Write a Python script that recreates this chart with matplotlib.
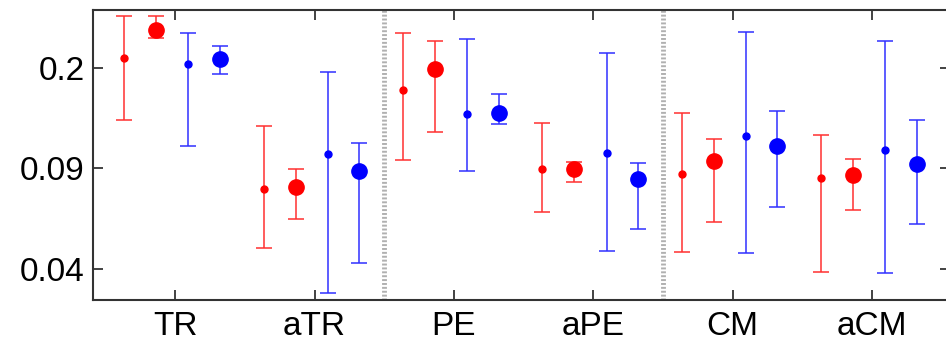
#!/usr/bin/env python3
import matplotlib
matplotlib.use('Agg')
import matplotlib.pyplot as plt
import numpy as np

groups = ['TR', 'aTR', 'PE', 'aPE', 'CM', 'aCM']

red_small_val = [0.217, 0.0762, 0.168, 0.0892, 0.0855, 0.0830]
red_small_lo = [0.132, 0.0474, 0.0961, 0.0631, 0.0461, 0.0391]
red_small_hi = [0.304, 0.126, 0.264, 0.129, 0.140, 0.1175]

red_big_val = [0.272, 0.0770, 0.198, 0.0894, 0.0951, 0.0848]
red_big_lo = [0.2545, 0.0600, 0.120, 0.0805, 0.0586, 0.0645]
red_big_hi = [0.304, 0.0889, 0.249, 0.0946, 0.113, 0.0968]

blue_small_val = [0.206, 0.1006, 0.138, 0.1016, 0.116, 0.1038]
blue_small_lo = [0.107, 0.0330, 0.0880, 0.0464, 0.0454, 0.0387]
blue_small_hi = [0.264, 0.193, 0.252, 0.225, 0.2665, 0.248]

blue_big_val = [0.215, 0.0880, 0.140, 0.0824, 0.107, 0.0931]
blue_big_lo = [0.191, 0.0420, 0.128, 0.0554, 0.0656, 0.0576]
blue_big_hi = [0.239, 0.110, 0.162, 0.0938, 0.142, 0.132]

ytick_vals = [0.04, 0.09, 0.2]
ytick_labels = ['0.04', '0.09', '0.2']

plt.rcParams['font.family'] = ['Liberation Sans', 'DejaVu Sans']

fig = plt.figure(figsize=(9.46, 3.46), dpi=100)
ax = fig.add_axes([93 / 946, 46 / 346, (950 - 93) / 946, 290 / 346])

x = np.arange(len(groups))
series = [
    (red_small_val, red_small_lo, red_small_hi, '#ff0000', '#ff3030', 5, -0.365),
    (red_big_val, red_big_lo, red_big_hi, '#ff0000', '#ff3030', 11, -0.135),
    (blue_small_val, blue_small_lo, blue_small_hi, '#0000ff', '#3030ff', 5, 0.095),
    (blue_big_val, blue_big_lo, blue_big_hi, '#0000ff', '#3030ff', 11, 0.32),
]
for val, lo, hi, col, ecol, ms, off in series:
    val = np.array(val)
    err = [val - np.array(lo), np.array(hi) - val]
    ax.errorbar(x + off, val, yerr=err, fmt='o', color=col, ecolor=ecol,
                markersize=ms, markeredgecolor=col, elinewidth=1.1,
                capsize=5.5, capthick=1.1, zorder=3)

for sep in [1.5, 3.5]:
    ax.axvline(sep, color='#b0b0b0', linewidth=3.5, linestyle=(0, (0.4, 0.4)), zorder=1)

ax.set_yscale('log')
ax.set_ylim(0.0313, 0.318)
ax.set_xlim(-0.59, 5.56)
ax.set_yticks(ytick_vals)
ax.set_yticklabels(ytick_labels)
ax.yaxis.set_minor_locator(matplotlib.ticker.NullLocator())
ax.set_xticks(x)
ax.set_xticklabels(groups)
ax.tick_params(direction='in', length=7, width=1.2, labelsize=24,
               top=True, right=True, colors='#222222', labelcolor='black')
ax.tick_params(axis='x', pad=8)
ax.tick_params(axis='y', pad=6)
for s in ax.spines.values():
    s.set_linewidth(1.5)
    s.set_color('#333333')

plt.savefig('out.png', dpi=100)
